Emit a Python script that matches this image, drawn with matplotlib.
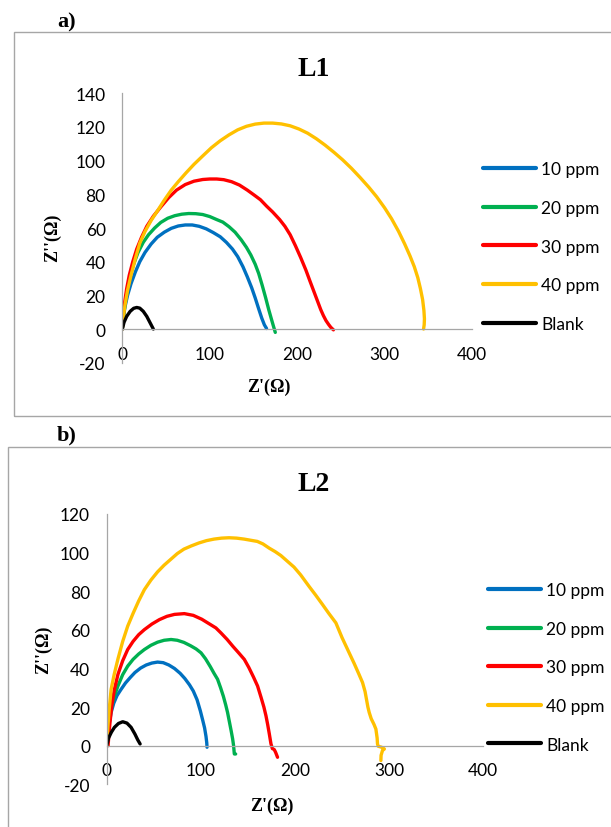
import matplotlib
matplotlib.use("Agg")
import matplotlib.pyplot as plt
from matplotlib.patches import Rectangle

plt.rcParams["axes.unicode_minus"] = False

# series names and colours (Excel palette)
labels = ["10 ppm", "20 ppm", "30 ppm", "40 ppm", "Blank"]
colors = ["#0070C0", "#00B050", "#FF0000", "#FFC000", "#000000"]

# ---- panel a) L1 ----
l1_10_x = [0, 1, 3, 6, 10, 15, 20, 26, 33, 40, 48, 56, 64, 72, 80, 88, 96, 104, 112, 119, 126, 132,
           138, 143, 148, 152, 156, 159.5, 162.5, 165]
l1_10_y = [0, 6, 13, 20, 27, 34, 40, 45.5, 50.5, 54.5, 57.5, 59.8, 61.2, 61.8, 61.8, 61, 59.5, 57.3,
           54.8, 51.5, 47.5, 43, 37, 31, 24.5, 18.5, 12, 6.5, 2.5, 0.3]

l1_20_x = [0, 1, 3, 6, 9, 13, 18, 24, 30, 37, 44, 52, 60, 68, 76, 84, 92, 100, 108, 115, 122, 129,
           136, 142, 147, 152, 156, 160, 164, 167.5, 170.5, 173, 175]
l1_20_y = [0, 6, 14, 24, 31.5, 38.5, 45.5, 51.5, 56, 60, 63.3, 65.8, 67.3, 68.2, 68.6, 68.5, 68, 66.8,
           65, 63.5, 60.8, 57.5, 53, 48.5, 44, 38.5, 33, 26, 18.5, 11.5, 6, 1.5, -2]

l1_30_x = [0, 1, 3, 5, 8, 12, 16.5, 22, 28, 35.5, 44, 53, 62, 72, 82, 92, 100, 108, 116, 125, 134,
           143, 151, 158, 165, 172, 180, 186, 192, 198, 204, 210, 215, 219, 223, 227, 230, 233, 236,
           238.5, 241.5]
l1_30_y = [0, 8, 17, 24, 32, 40, 47.5, 54.5, 61, 67, 72.5, 78, 82.5, 85.8, 87.8, 88.8, 89.1, 89.1,
           88.7, 87.5, 85.5, 82.5, 79.5, 76.8, 73, 69.5, 65, 61, 56, 49.5, 42.5, 35, 28, 22.5, 17,
           11.5, 8, 5, 2.7, 1, -0.5]

l1_40_x = [0, 1, 3, 6, 10, 15, 20, 26, 33, 40, 48, 56, 64, 73, 82, 92, 102, 112, 122, 132, 142, 152,
           162, 172, 182, 192, 202, 212, 222, 232, 242, 252, 262, 272, 282, 291, 300, 308, 316, 323,
           329, 334, 338, 341, 343.5, 345, 345.6, 345.3, 344.6]
l1_40_y = [0, 6, 14, 23, 32, 42, 51, 58, 64.5, 70, 76.5, 82.5, 87.5, 92.8, 97.8, 102.8, 107.7, 111.8,
           115.3, 118.3, 120.4, 121.7, 122.3, 122.3, 121.8, 120.7, 118.8, 116.3, 113, 109.2, 105,
           100.5, 95.5, 90, 84.2, 78.5, 72, 65.5, 58, 50.5, 43.5, 37, 30.5, 24, 17.5, 11, 6, 2.5, 0]

l1_blank_x = [0, 2, 5, 9, 13, 16.5, 20, 24, 28, 31, 34, 35.5]
l1_blank_y = [0, 4, 7.5, 10.5, 12.3, 12.8, 12.4, 10.5, 7.5, 4.5, 1.5, 0]

# ---- panel b) L2 ----
l2_10_x = [0, 1, 2.5, 4.7, 7.5, 11, 15.3, 20, 25, 30, 36, 42, 48, 54, 60, 66, 72, 78, 83, 88, 92,
           96, 99.5, 102, 104, 105.5, 106.3, 106.6]
l2_10_y = [0, 5, 11, 17.2, 22, 26, 29.2, 32.5, 35.3, 37.9, 40.2, 41.8, 42.8, 43.3, 43, 41.8, 40,
           37.5, 34.8, 31.5, 28.3, 23.8, 18, 13.2, 9.2, 4.8, 1.5, -0.8]

l2_20_x = [0, 1, 2.5, 5, 8.2, 12, 17, 22.3, 28, 34, 40, 47, 54, 61, 68.4, 75, 82, 89, 95, 100.2, 105,
           110, 114, 117.8, 121, 124, 126.5, 128.4, 130.5, 132.3, 133.8, 134.8, 135.6, 137]
l2_20_y = [0, 6, 13, 20, 25.8, 31, 36.8, 41.2, 44.7, 47.5, 49.8, 52, 53.6, 54.6, 55, 54.6, 53.5, 51.8,
           50.1, 48.1, 45, 41, 37.5, 34.4, 30, 25.5, 21, 17.2, 12, 7.5, 3.5, 0, -4.3, -4.3]

l2_30_x = [1.5, 2.2, 3.5, 5.5, 8.2, 12, 17, 22.3, 28, 34, 40, 48, 56, 64, 72, 82.5, 92, 101, 110, 116,
           121.4, 128, 134, 140, 146.2, 151, 156, 160.3, 164, 167, 169.2, 171, 172.8, 174.5, 176, 178,
           179.5, 181.5]
l2_30_y = [0, 5, 12, 21, 29.2, 37, 44, 49.8, 54, 57.5, 60.1, 63, 65.3, 67, 68, 68.4, 67.5, 65.5, 62.8,
           61, 58.4, 55, 51.5, 48.2, 44.7, 40.5, 35.5, 30.9, 25, 20, 15.5, 11, 6, 1, -1.5, -2, -3.5, -6]

l2_40_x = [0, 1, 2.5, 4.7, 8, 12, 17, 22.3, 28, 34, 40, 47, 54, 61, 68, 75, 82, 90, 98, 106, 114,
           122, 130, 138, 146, 153, 160, 166, 172.7, 179, 185, 192, 199, 206, 215, 222, 229, 236,
           243.5, 250, 257.6, 263, 268, 271.8, 274.5, 276, 277.5, 278.9, 281, 284, 286, 287.3, 287.7,
           288.5, 292, 295, 293, 291.5, 291.3]
l2_40_y = [0, 8, 18, 29.2, 37, 45, 54, 61.9, 68.5, 75, 80.8, 85.8, 90, 93.5, 96.5, 99.5, 101.8, 103.5,
           105, 106.2, 107, 107.5, 107.7, 107.5, 107, 106.4, 105.8, 104.5, 102.3, 100.5, 98.5, 95.5,
           92.5, 88.5, 82.5, 78, 73.3, 68.5, 63.6, 56, 48.1, 42.5, 37, 32.7, 28, 24, 20, 17.2, 14, 11,
           8.6, 4, 0.9, -0.3, -0.8, -1.7, -2.5, -5, -7.7]

l2_blank_x = [0, 2, 5, 8.2, 12.5, 17, 21.5, 25.9, 30, 33, 35.5]
l2_blank_y = [0, 4, 7, 9.5, 11.5, 12.4, 11.7, 9.5, 6, 3, 0.9]

x_ticks = [0, 100, 200, 300, 400]
l1_y_ticks = [-20, 0, 20, 40, 60, 80, 100, 120, 140]
l2_y_ticks = [-20, 0, 20, 40, 60, 80, 100, 120]

TICK_FONT = "Lato"
SERIF = "Liberation Serif"
GRID_GRAY = "#A6A6A6"

fig = plt.figure(figsize=(6.11, 8.28), dpi=100)


def draw_panel(rect, series, y_ticks, title, title_pos, tag, tag_pos, ylab_pos, xlab_pos, leg_anchor):
    ax = fig.add_axes(rect)
    for (xs, ys), lab, col in zip(series, labels, colors):
        ax.plot(xs, ys, color=col, lw=2.4, label=lab, solid_capstyle="round", solid_joinstyle="round")
    ax.set_xlim(0, 400)
    ax.set_ylim(y_ticks[0], y_ticks[-1])
    ax.set_xticks(x_ticks)
    ax.set_yticks(y_ticks)
    for side in ["top", "right"]:
        ax.spines[side].set_visible(False)
    ax.spines["bottom"].set_position(("data", 0))
    for side in ["bottom", "left"]:
        ax.spines[side].set_color(GRID_GRAY)
        ax.spines[side].set_linewidth(0.9)
    ax.tick_params(length=0, labelsize=12.5, pad=12)
    for t in ax.get_xticklabels() + ax.get_yticklabels():
        t.set_family(TICK_FONT)
    ax.patch.set_alpha(0)

    leg = ax.legend(loc="center left", bbox_to_anchor=leg_anchor, bbox_transform=fig.transFigure,
                    frameon=False, prop={"family": TICK_FONT, "size": 12.5}, handlelength=3.05,
                    handletextpad=0.3, labelspacing=1.3, borderpad=0, borderaxespad=0)
    for h in leg.get_lines():
        h.set_linewidth(3)

    fig.text(*title_pos, title, family=SERIF, weight="bold", fontsize=20, ha="center", va="center")
    fig.text(*tag_pos, tag, family=SERIF, weight="bold", fontsize=16, ha="center", va="center")
    fig.text(*ylab_pos, "Z''(\u03a9)", family=SERIF, weight="bold", fontsize=13,
             ha="center", va="center", rotation=90)
    fig.text(*xlab_pos, "Z'(\u03a9)", family=SERIF, weight="bold", fontsize=13, ha="center", va="center")
    return ax


# chart area frames (right / bottom edges run off the page like the source)
fig.patches.append(Rectangle((13.5 / 611, 1 - 417 / 828), 1.0, 384.5 / 828, transform=fig.transFigure,
                             fill=False, ec=GRID_GRAY, lw=1.0))
fig.patches.append(Rectangle((8.3 / 611, -0.05), 1.0, 1 - 448 / 828 + 0.05, transform=fig.transFigure,
                             fill=False, ec=GRID_GRAY, lw=1.0))

l1_series = [(l1_10_x, l1_10_y), (l1_20_x, l1_20_y), (l1_30_x, l1_30_y), (l1_40_x, l1_40_y),
             (l1_blank_x, l1_blank_y)]
l2_series = [(l2_10_x, l2_10_y), (l2_20_x, l2_20_y), (l2_30_x, l2_30_y), (l2_40_x, l2_40_y),
             (l2_blank_x, l2_blank_y)]

draw_panel([122.3 / 611, 1 - 363.7 / 828, 349.7 / 611, 269.4 / 828], l1_series, l1_y_ticks,
           "L1", (0.5134, 0.9155), "a)", (0.1097, 0.9734), (0.0861, 0.7126), (0.4403, 0.5318),
           (483 / 611, 1 - 247.5 / 828))
draw_panel([106.7 / 611, 1 - 785.3 / 828, 376.5 / 611, 270.3 / 828], l2_series, l2_y_ticks,
           "L2", (0.5134, 0.4143), "b)", (0.1097, 0.4746), (0.0704, 0.215), (0.4445, 0.0257),
           (488 / 611, 1 - 668.4 / 828))

fig.savefig("out.png", dpi=100)
